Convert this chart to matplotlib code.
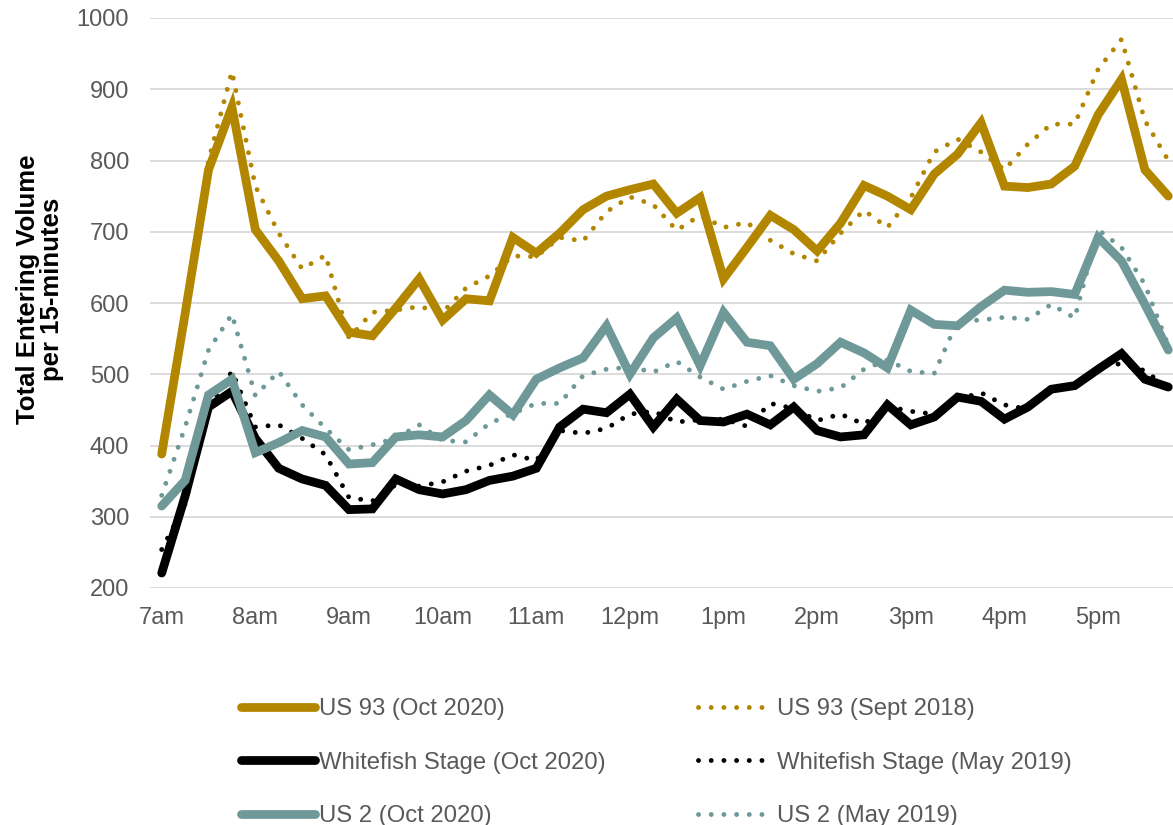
import matplotlib
matplotlib.use("Agg")
import matplotlib.pyplot as plt
from matplotlib.lines import Line2D

plt.rcParams["font.family"] = ["Liberation Sans", "DejaVu Sans"]

# 15-minute intervals from 7:00am to 5:45pm
hour_labels = ["7am", "8am", "9am", "10am", "11am", "12pm",
               "1pm", "2pm", "3pm", "4pm", "5pm"]

us93_2020 = [388, 585, 787, 875, 703, 659, 606, 610, 559, 554,
             593, 634, 576, 606, 603, 692, 670, 698, 731, 750,
             759, 767, 726, 748, 634, 678, 723, 703, 673, 712,
             765, 750, 731, 781, 809, 853, 764, 762, 767, 792,
             864, 914, 787, 750]
us93_2018 = [392, 590, 800, 925, 764, 698, 648, 667, 551, 587,
             590, 595, 587, 621, 638, 666, 665, 692, 687, 728,
             749, 738, 702, 723, 706, 713, 688, 669, 659, 698,
             730, 706, 748, 812, 830, 812, 787, 823, 851, 851,
             928, 970, 856, 800]
wfs_2020 = [221, 329, 454, 476, 410, 368, 353, 344, 310, 311,
            353, 338, 332, 338, 351, 357, 368, 426, 451, 446,
            472, 426, 465, 435, 433, 444, 429, 454, 421, 412,
            415, 457, 429, 440, 468, 462, 437, 454, 479, 484,
            507, 529, 493, 482]
wfs_2019 = [254, 318, 452, 504, 426, 429, 410, 387, 327, 322,
            345, 343, 349, 364, 372, 387, 379, 421, 417, 424,
            444, 448, 433, 436, 437, 427, 459, 452, 435, 444,
            430, 455, 448, 444, 465, 474, 457, 451, 480, 485,
            510, 515, 505, 480]
us2_2020 = [315, 351, 471, 493, 390, 404, 421, 412, 374, 376,
            412, 415, 412, 435, 471, 443, 493, 509, 523, 568,
            500, 551, 579, 512, 587, 545, 540, 493, 515, 545,
            530, 509, 590, 570, 568, 595, 618, 615, 616, 612,
            692, 659, 598, 534]
us2_2019 = [330, 426, 534, 584, 470, 504, 457, 424, 394, 401,
            410, 429, 407, 405, 431, 445, 459, 459, 498, 507,
            510, 503, 518, 496, 479, 490, 498, 484, 476, 481,
            507, 520, 504, 501, 575, 576, 580, 577, 598, 579,
            703, 678, 626, 540]

gold = "#B38600"
teal = "#6F9898"
black = "#000000"
grey_text = "#595959"

x = list(range(len(us93_2020)))

fig = plt.figure(figsize=(11.73, 8.25), dpi=100)
ax = fig.add_axes([150 / 1173, 1 - 588 / 825, 1 - 150 / 1173, 570 / 825])

dot = (0, (0.01, 2.6))
solid_lw = 6.3
dot_lw = 3.5

# dotted series first, solid ones drawn on top
ax.plot(x, us93_2018, color=gold, lw=dot_lw, linestyle=dot, dash_capstyle="round")
ax.plot(x, wfs_2019, color=black, lw=dot_lw, linestyle=dot, dash_capstyle="round")
ax.plot(x, us2_2019, color=teal, lw=dot_lw, linestyle=dot, dash_capstyle="round")
ax.plot(x, us93_2020, color=gold, lw=solid_lw, solid_capstyle="round", solid_joinstyle="miter")
ax.plot(x, wfs_2020, color=black, lw=solid_lw, solid_capstyle="round", solid_joinstyle="miter")
ax.plot(x, us2_2020, color=teal, lw=solid_lw, solid_capstyle="round", solid_joinstyle="miter")

ax.set_xlim(-0.5, 43.2)
ax.set_ylim(200, 1000)
ax.set_yticks(range(200, 1001, 100))
ax.set_xticks(range(0, len(x), 4))
ax.set_xticklabels(hour_labels)
ax.tick_params(axis="both", length=0, labelsize=17, labelcolor=grey_text)
ax.tick_params(axis="y", pad=15)
ax.tick_params(axis="x", pad=14)
ax.grid(axis="y", color="#D9D9D9", lw=1.3)
ax.set_axisbelow(True)
for s in ax.spines.values():
    s.set_visible(False)

fig.text(40 / 1173, 1 - 289 / 825, "Total Entering Volume\nper 15-minutes",
         rotation=90, ha="center", va="center", fontsize=18.5,
         fontweight="bold", multialignment="center", linespacing=1.05)

handles = [
    Line2D([], [], color=gold, lw=solid_lw, solid_capstyle="round"),
    Line2D([], [], color=black, lw=solid_lw, solid_capstyle="round"),
    Line2D([], [], color=teal, lw=solid_lw, solid_capstyle="round"),
    Line2D([], [], color=gold, lw=dot_lw, linestyle=dot, dash_capstyle="round"),
    Line2D([], [], color=black, lw=dot_lw, linestyle=dot, dash_capstyle="round"),
    Line2D([], [], color=teal, lw=dot_lw, linestyle=dot, dash_capstyle="round"),
]
labels = ["US 93 (Oct 2020)", "Whitefish Stage (Oct 2020)", "US 2 (Oct 2020)",
          "US 93 (Sept 2018)", "Whitefish Stage (May 2019)", "US 2 (May 2019)"]
leg = fig.legend(handles, labels, ncol=2, loc="upper left",
                 bbox_to_anchor=(219 / 1173, 1 - 677 / 825),
                 frameon=False, fontsize=17.2, handlelength=3.1,
                 handletextpad=0.2, columnspacing=3.85, labelspacing=1.31,
                 labelcolor=grey_text)

fig.savefig("out.png", dpi=100)
